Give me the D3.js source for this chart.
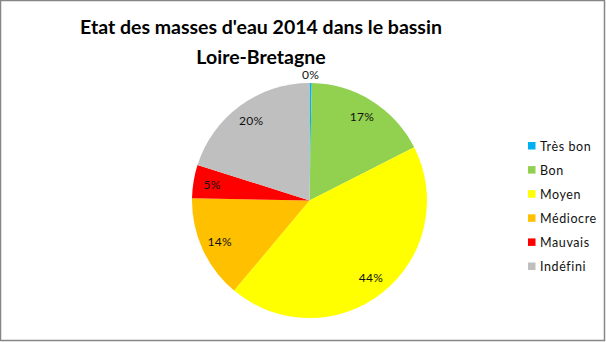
<!DOCTYPE html>
<html>
<head>
<meta charset="utf-8">
<script src="https://cdn.jsdelivr.net/npm/d3@7"></script>
<style>
  html, body { margin: 0; padding: 0; background: #fff; }
  svg { display: block; }
  text { font-family: Lato, "Open Sans", "Liberation Sans", sans-serif; }
</style>
</head>
<body>
<svg id="chart" width="606" height="342"></svg>
<script>
// Water-body status shares, Loire-Bretagne basin, 2014 (percent)
const categories = ["Très bon", "Bon", "Moyen", "Médiocre", "Mauvais", "Indéfini"];
const shares = [0.3, 17.2, 43.6, 14.2, 4.6, 20.1];
const colors = ["#00B0F0", "#92D050", "#FFFF00", "#FFC000", "#FF0000", "#BFBFBF"];
const titleLines = ["Etat des masses d'eau 2014 dans le bassin", "Loire-Bretagne"];

const svg = d3.select("#chart");
const W = 606, H = 342;

// chart frame
svg.append("rect")
  .attr("x", 0.5).attr("y", 0.5)
  .attr("width", W - 2).attr("height", H - 2)
  .attr("fill", "#fff").attr("stroke", "#868686").attr("stroke-width", 1.5);

// title
svg.append("g").selectAll("text")
  .data(titleLines)
  .join("text")
  .attr("x", 261).attr("y", (d, i) => 34 + i * 29.5)
  .attr("text-anchor", "middle")
  .attr("font-size", 19.5)
  .attr("font-weight", "bold")
  .attr("fill", "#000")
  .text(d => d);

// pie
const cx = 309.5, cy = 200.5, R = 117.5;
const total = d3.sum(shares);
const data = categories.map((c, i) => ({ name: c, value: shares[i], color: colors[i] }));
const pie = d3.pie().value(d => d.value).sort(null);
const arcs = pie(data);
const arc = d3.arc().innerRadius(0).outerRadius(R);
const labelArc = d3.arc().innerRadius(R * 0.84).outerRadius(R * 0.84);
const outerLabelArc = d3.arc().innerRadius(R + 8).outerRadius(R + 8);

const g = svg.append("g").attr("transform", `translate(${cx},${cy})`);
g.selectAll("path")
  .data(arcs)
  .join("path")
  .attr("d", arc)
  .attr("fill", d => d.data.color);

const fmt = v => Math.round(v / total * 100) + "%";
g.selectAll("text.lbl")
  .data(arcs)
  .join("text")
  .attr("class", "lbl")
  .attr("transform", d => {
    const small = d.data.value / total < 0.02;
    const [x, y] = (small ? outerLabelArc : labelArc).centroid(d);
    return `translate(${x},${y})`;
  })
  .attr("text-anchor", "middle")
  .attr("dy", "0.35em")
  .attr("font-size", 12)
  .attr("letter-spacing", 0.3)
  .attr("fill", "#111")
  .text(d => fmt(d.data.value));

// legend
const legend = svg.append("g").attr("transform", "translate(528,146)");
const rows = legend.selectAll("g")
  .data(data)
  .join("g")
  .attr("transform", (d, i) => `translate(0,${i * 24.1})`);
rows.append("rect")
  .attr("x", 0).attr("y", -4)
  .attr("width", 7.5).attr("height", 7.5)
  .attr("fill", d => d.color);
rows.append("text")
  .attr("x", 12).attr("y", 0.5)
  .attr("dy", "0.35em")
  .attr("font-size", 12.5)
  .attr("letter-spacing", 0.6)
  .attr("fill", "#111")
  .text(d => d.name);
</script>
</body>
</html>
